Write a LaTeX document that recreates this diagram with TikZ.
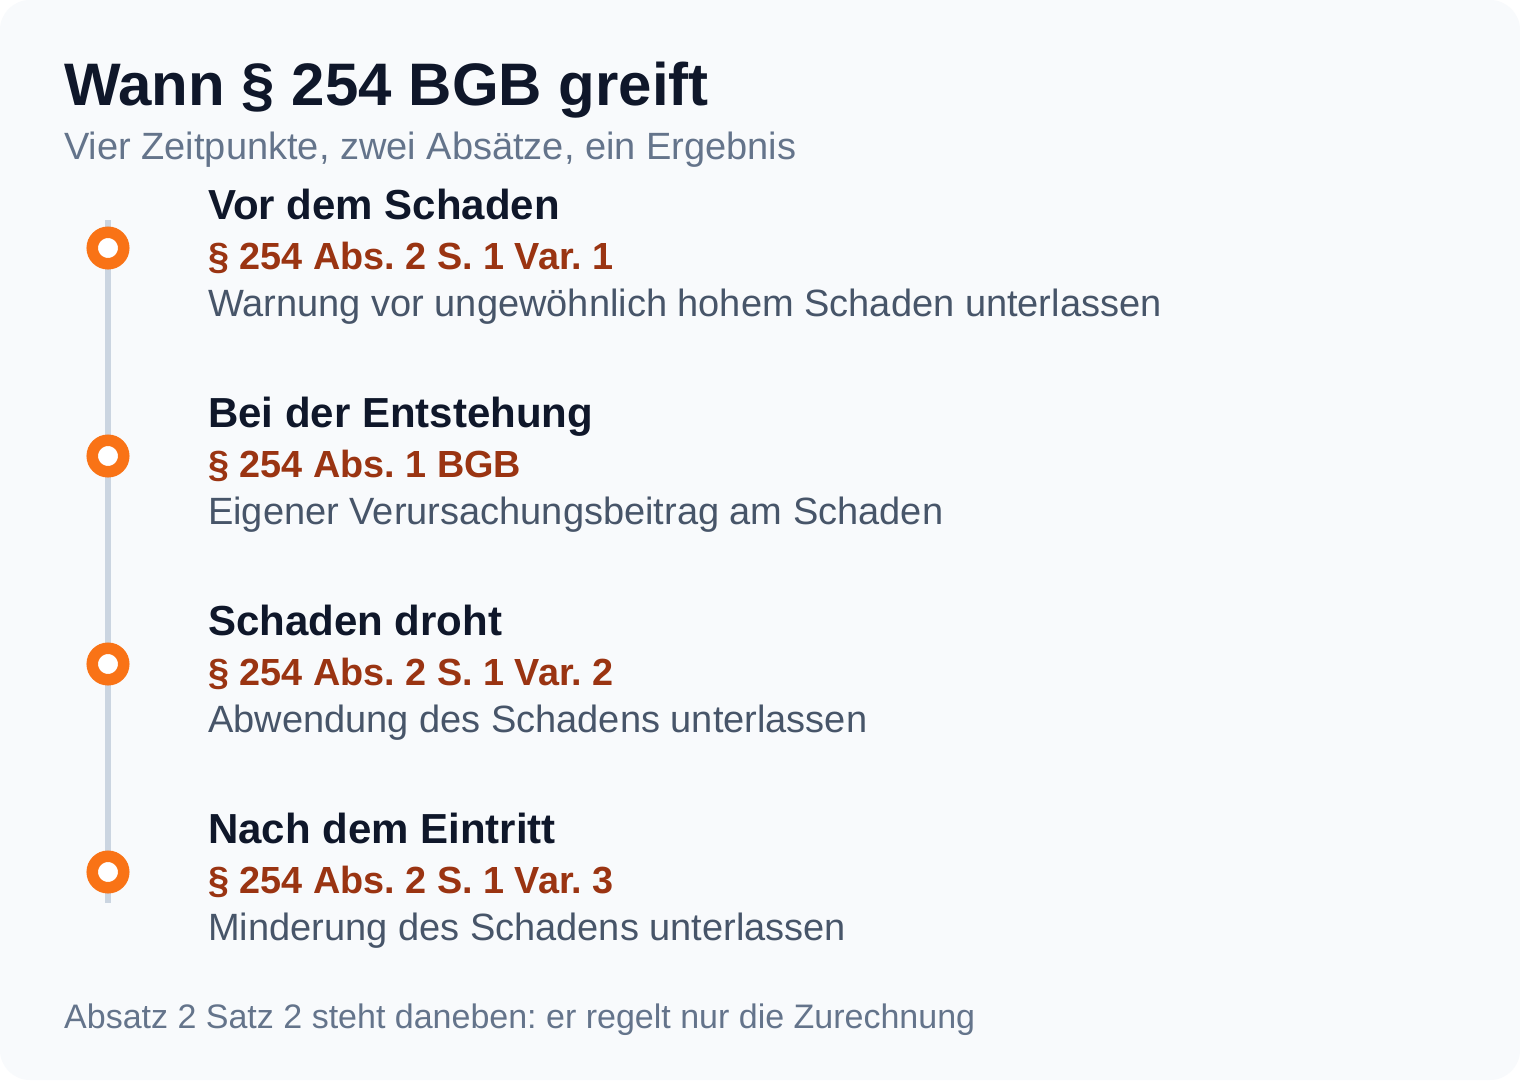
\documentclass[tikz,border=0pt]{standalone}
\usepackage{fontspec}
\setmainfont{Liberation Sans}
\usetikzlibrary{positioning}
\definecolor{ink}{HTML}{0F172A}
\definecolor{slate}{HTML}{64748B}
\definecolor{slatedark}{HTML}{475569}
\definecolor{rust}{HTML}{9A3412}
\definecolor{accent}{HTML}{F97316}
\definecolor{rail}{HTML}{CBD5E1}
\definecolor{paper}{HTML}{F8FAFC}
\newcommand{\fsz}[1]{\fontsize{#1}{#1}\selectfont}
\frenchspacing
\tikzset{txt/.style={anchor=base west, inner sep=0pt, text=#1},
 dot/.style={circle, draw=accent, line width=11.5pt, fill=white,
 inner sep=0pt, minimum size=31.5pt}
}

\begin{document}
\begin{tikzpicture}[x=1pt, y=-1pt]

\fill [white] (0,0) rectangle (1520,1080);
\fill [paper, rounded corners=30pt] (0,0) rectangle (1520,1080);

\node [txt=ink, font=\fsz{60}\bfseries] (title) at (64,105) {Wann § 254 BGB greift};
\node [txt=slate, font=\fsz{38}] (subtitle) at (64,159) {Vier Zeitpunkte, zwei Absätze, ein Ergebnis};

\coordinate (railtop) at (108,220);
\coordinate (railbot) at (108,903);
\draw [rail, line width=6pt] (railtop) -- (railbot);

\foreach \i/\h/\r/\d in
  {0/Vor dem Schaden/§ 254 Abs. 2 S. 1 Var. 1/Warnung vor ungewöhnlich hohem Schaden unterlassen,
  1/Bei der Entstehung/§ 254 Abs. 1 BGB/Eigener Verursachungsbeitrag am Schaden,
  2/Schaden droht/§ 254 Abs. 2 S. 1 Var. 2/Abwendung des Schadens unterlassen,
  3/Nach dem Eintritt/§ 254 Abs. 2 S. 1 Var. 3/Minderung des Schadens unterlassen}
{
  \node [dot] (dot\i) at (108,{248+208*\i}) {};
  \node [txt=ink, font=\fsz{42}\bfseries] (head\i) at (208,{219+208*\i}) {\h};
  \node [txt=rust, font=\fsz{37.8}\bfseries] (ref\i) at (208,{269+208*\i}) {\r};
  \node [txt=slatedark, font=\fsz{38}] (desc\i) at (208,{316+208*\i}) {\d};
}

\node [txt=slate, font=\fsz{34}] (footer) at (64,1028) {Absatz 2 Satz 2 steht daneben: er regelt nur die Zurechnung};
\end{tikzpicture}
\end{document}
